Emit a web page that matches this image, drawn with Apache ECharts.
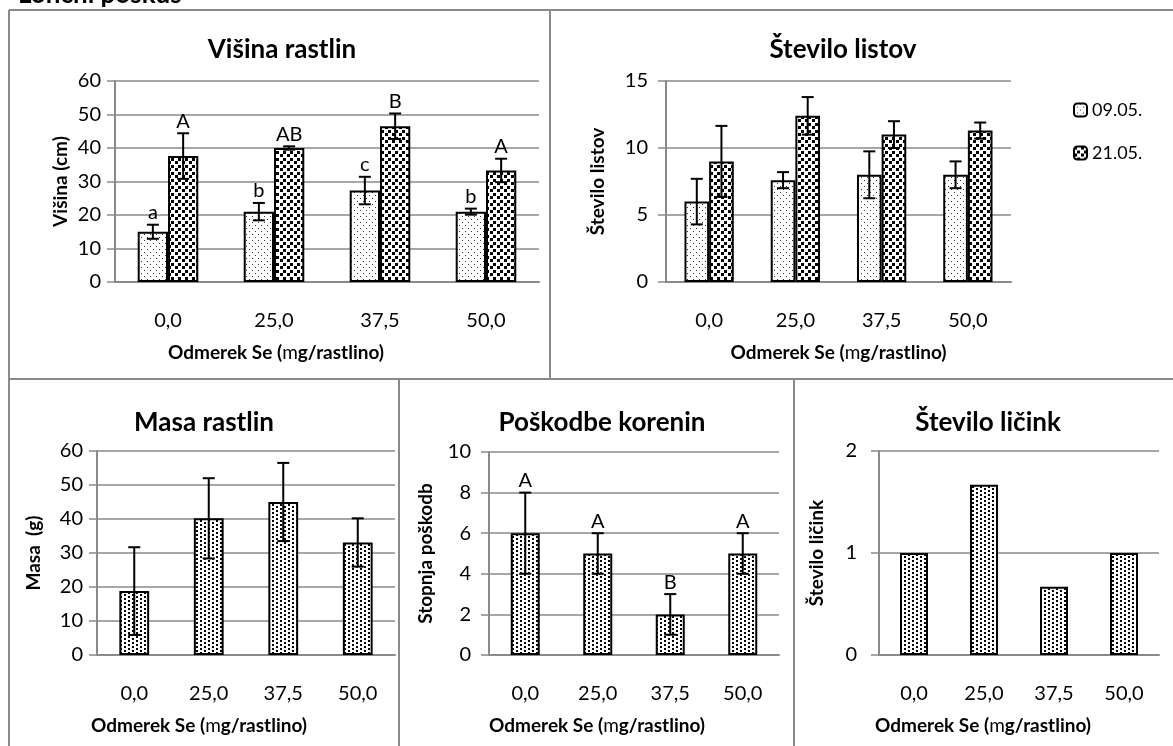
<!DOCTYPE html>
<html>
<head>
<meta charset="utf-8">
<script src="https://cdn.jsdelivr.net/npm/echarts@6/dist/echarts.min.js"></script>
<style>html,body{margin:0;padding:0;background:#fff}#c{width:1173px;height:746px}</style>
</head>
<body>
<div id="c"></div>
<script>
// ---- data ----
const categories = ['0,0', '25,0', '37,5', '50,0'];
const seriesNames = ['09.05.', '21.05.'];

const heightD1 = [15.0, 21.0, 27.3, 21.0];
const heightD1Err = [2.1, 2.6, 4.1, 0.9];
const heightD1Letters = ['a', 'b', 'c', 'b'];
const heightD2 = [37.6, 40.0, 46.5, 33.3];
const heightD2Err = [6.8, 0.5, 3.8, 3.5];
const heightD2Letters = ['A', 'AB', 'B', 'A'];

const leavesD1 = [6.0, 7.6, 8.0, 8.0];
const leavesD1Err = [1.7, 0.6, 1.75, 1.0];
const leavesD2 = [9.0, 12.4, 11.0, 11.3];
const leavesD2Err = [2.65, 1.4, 1.0, 0.6];

const mass = [18.8, 40.2, 45.0, 33.1];
const massErr = [12.9, 11.8, 11.5, 7.1];

const damage = [6, 5, 2, 5];
const damageErr = [2, 1, 1, 1];
const damageLetters = ['A', 'A', 'B', 'A'];

const larvae = [1, 1.67, 0.67, 1];

// ---- patterns ----
function makePattern(w, h, dots, dot, color) {
  const c = document.createElement('canvas');
  c.width = w; c.height = h;
  const ctx = c.getContext('2d');
  ctx.fillStyle = '#fff'; ctx.fillRect(0, 0, w, h);
  ctx.fillStyle = color;
  dots.forEach(d => ctx.fillRect(d[0], d[1], dot, dot));
  return { image: c, repeat: 'repeat' };
}
const patLight = makePattern(6, 6, [[0, 0], [3, 3]], 1, '#333');
const patDark = makePattern(7, 7, [[0, 0], [3, 4]], 3, '#000');
const patMid = makePattern(8, 4, [[0, 0], [4, 2]], 2, '#000');

const FONT = 'Lato, "Open Sans", sans-serif';
const GRAY = '#8a8a8a';

function errSeries(gridIdx, values, errs, letters, slot, nSlots) {
  const gapRatio = nSlots === 2 ? 1.5 / 3.5 : 1.5 / 2.5;
  return {
    type: 'custom',
    xAxisIndex: gridIdx, yAxisIndex: gridIdx,
    silent: true, z: 5,
    data: values.map((v, i) => [i, v + errs[i], v - errs[i]]),
    encode: { x: 0, y: [1, 2] },
    renderItem: function (params, api) {
      const i = api.value(0);
      const cat = api.size([1, 0])[0];
      const bw = cat * (1 - gapRatio) / nSlots;
      const off = (slot - (nSlots - 1) / 2) * bw;
      const top = api.coord([i, api.value(1)]);
      const bot = api.coord([i, api.value(2)]);
      const x = top[0] + off;
      const cap = 6;
      const st = { stroke: '#000', lineWidth: 2 };
      const children = [
        { type: 'line', shape: { x1: x, y1: top[1], x2: x, y2: bot[1] }, style: st },
        { type: 'line', shape: { x1: x - cap, y1: top[1], x2: x + cap, y2: top[1] }, style: st },
        { type: 'line', shape: { x1: x - cap, y1: bot[1], x2: x + cap, y2: bot[1] }, style: st }
      ];
      if (letters) {
        children.push({
          type: 'text',
          style: { x: x, y: top[1] - 2, text: letters[params.dataIndex], align: 'center', verticalAlign: 'bottom',
            fill: '#000', font: '20px ' + FONT }
        });
      }
      return { type: 'group', children: children };
    }
  };
}

// shift: how far (px) the axis title sits left of the plot centre
function xAxis(gridIdx, shift) {
  return {
    type: 'category', gridIndex: gridIdx, data: categories,
    axisLine: { lineStyle: { color: GRAY, width: 2 } },
    axisTick: { show: false },
    axisLabel: { color: '#000', fontSize: 20, fontFamily: FONT, margin: 29 },
    name: 'Odmerek Se ({m|m}g/rastlino)', nameLocation: 'middle', nameGap: 61,
    nameTextStyle: { color: '#000', fontSize: 19, fontWeight: 'bold', fontFamily: FONT,
      padding: [0, 2 * shift, 0, 0],
      rich: { m: { fontSize: 19, fontWeight: 'normal', fontFamily: FONT, color: '#000' } } }
  };
}
function yAxis(gridIdx, max, interval, name, nameGap, labelMargin) {
  return {
    type: 'value', gridIndex: gridIdx, min: 0, max: max, interval: interval,
    axisLine: { show: true, lineStyle: { color: GRAY, width: 2 } },
    axisTick: { show: true, length: 8, lineStyle: { color: GRAY, width: 1.5 } },
    splitLine: { lineStyle: { color: GRAY, width: 1.5 } },
    axisLabel: { color: '#000', fontSize: 20, fontFamily: FONT, margin: labelMargin },
    name: name, nameLocation: 'middle', nameGap: nameGap,
    nameTextStyle: { color: '#000', fontSize: 19, fontWeight: 'bold', fontFamily: FONT }
  };
}
function barSeries(gridIdx, name, values, pat, two) {
  return {
    type: 'bar', name: name, xAxisIndex: gridIdx, yAxisIndex: gridIdx, data: values,
    barGap: '0%', barCategoryGap: two ? '42.857%' : '60%',
    itemStyle: { color: pat, borderColor: '#000', borderWidth: 2 },
    emphasis: { disabled: true }, z: 3
  };
}

const titleStyle = { color: '#000', fontSize: 26, fontWeight: 'bold', fontFamily: FONT };

const option = {
  animation: false,
  backgroundColor: '#fff',
  title: [
    { text: 'Višina rastlin', left: 277, top: 32, textAlign: 'center', textStyle: titleStyle },
    { text: 'Število listov', left: 838, top: 32, textAlign: 'center', textStyle: titleStyle },
    { text: 'Masa rastlin', left: 199, top: 405, textAlign: 'center', textStyle: titleStyle },
    { text: 'Poškodbe korenin', left: 597, top: 405, textAlign: 'center', textStyle: titleStyle },
    { text: 'Število ličink', left: 983, top: 405, textAlign: 'center', textStyle: titleStyle }
  ],
  legend: {
    orient: 'vertical', left: 1068, top: 96, itemWidth: 13, itemHeight: 13, itemGap: 25,
    data: seriesNames, selectedMode: false,
    textStyle: { color: '#000', fontSize: 18, fontFamily: FONT }
  },
  grid: [
    { left: 115, top: 81, width: 424, height: 201 },
    { left: 666, top: 81, width: 345, height: 201 },
    { left: 97, top: 451, width: 298, height: 204 },
    { left: 489, top: 452, width: 290, height: 203 },
    { left: 879, top: 451, width: 280, height: 204 }
  ],
  xAxis: [xAxis(0, 51), xAxis(1, 0), xAxis(2, 47), xAxis(3, 37), xAxis(4, 36)],
  yAxis: [
    yAxis(0, 60, 10, 'Višina (cm)', 45, 14),
    yAxis(1, 15, 5, 'Število listov', 59, 18),
    yAxis(2, 60, 10, 'Masa  (g)', 54, 14),
    yAxis(3, 10, 2, 'Stopnja poškodb', 54, 18),
    yAxis(4, 2, 1, 'Število ličink', 53, 22)
  ],
  series: [
    barSeries(0, seriesNames[0], heightD1, patLight, true),
    barSeries(0, seriesNames[1], heightD2, patDark, true),
    errSeries(0, heightD1, heightD1Err, heightD1Letters, 0, 2),
    errSeries(0, heightD2, heightD2Err, heightD2Letters, 1, 2),
    barSeries(1, seriesNames[0], leavesD1, patLight, true),
    barSeries(1, seriesNames[1], leavesD2, patDark, true),
    errSeries(1, leavesD1, leavesD1Err, null, 0, 2),
    errSeries(1, leavesD2, leavesD2Err, null, 1, 2),
    barSeries(2, 'Masa', mass, patMid, false),
    errSeries(2, mass, massErr, null, 0, 1),
    barSeries(3, 'Poškodbe', damage, patMid, false),
    errSeries(3, damage, damageErr, damageLetters, 0, 1),
    barSeries(4, 'Ličinke', larvae, patMid, false)
  ],
  graphic: [
    { type: 'text', x: 18, y: -5, style: { text: 'Lončni poskus', fill: '#000', verticalAlign: 'middle', font: 'bold 26px ' + FONT } },
    { type: 'line', shape: { x1: 9, y1: 10, x2: 1173, y2: 10 }, style: { stroke: GRAY, lineWidth: 2 } },
    { type: 'line', shape: { x1: 9, y1: 10, x2: 9, y2: 746 }, style: { stroke: GRAY, lineWidth: 2 } },
    { type: 'line', shape: { x1: 550, y1: 10, x2: 550, y2: 379 }, style: { stroke: GRAY, lineWidth: 2 } },
    { type: 'line', shape: { x1: 9, y1: 379, x2: 1173, y2: 379 }, style: { stroke: GRAY, lineWidth: 2 } },
    { type: 'line', shape: { x1: 399, y1: 379, x2: 399, y2: 746 }, style: { stroke: GRAY, lineWidth: 2 } },
    { type: 'line', shape: { x1: 794, y1: 379, x2: 794, y2: 746 }, style: { stroke: GRAY, lineWidth: 2 } }
  ]
};

const chart = echarts.init(document.getElementById('c'), null, { renderer: 'canvas' });
chart.setOption(option);
</script>
</body>
</html>
